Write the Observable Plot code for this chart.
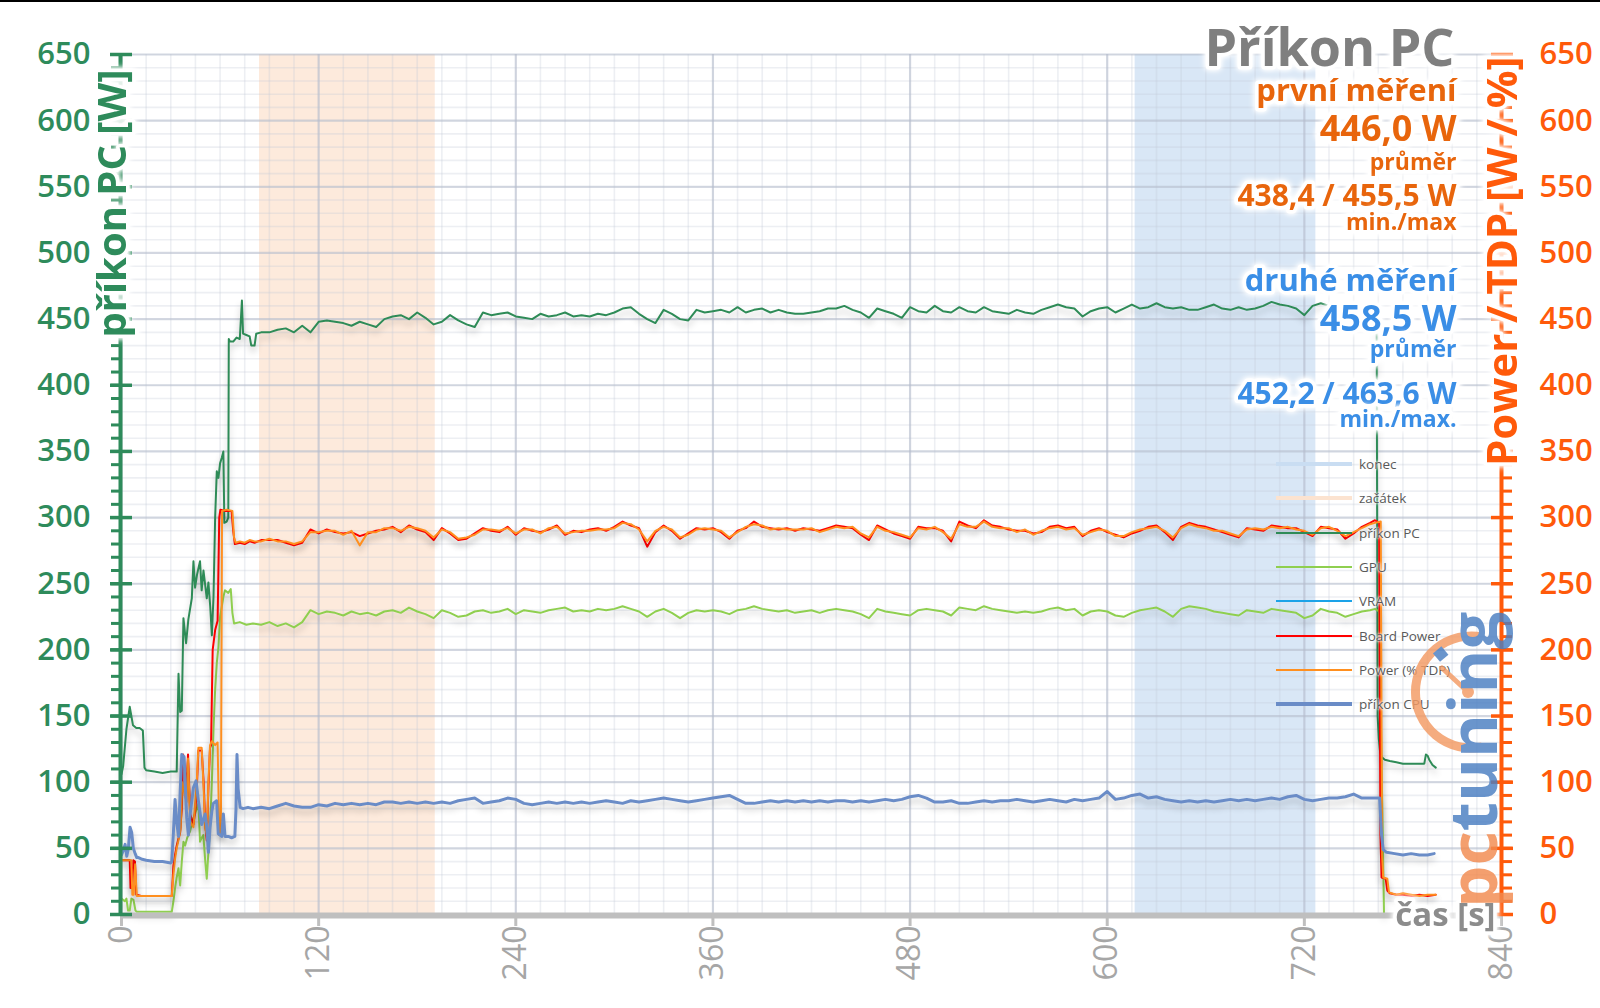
<!DOCTYPE html>
<html><head><meta charset="utf-8">
<script src="https://cdn.jsdelivr.net/npm/d3@7"></script>
<script src="https://cdn.jsdelivr.net/npm/@observablehq/plot@0.6"></script>
<style>
html,body{margin:0;padding:0;background:#fff;}
#wrap{position:relative;width:1600px;height:1008px;overflow:hidden;font-family:"Open Sans",sans-serif;}
#topline{position:absolute;left:0;top:0;width:1600px;height:2px;background:#000;}
#legend{position:absolute;left:1276px;top:447px;}
.row{display:flex;align-items:center;height:34.3px;}
.sw{width:76px;}
.lab{margin-left:7px;font-size:13.5px;color:#595959;font-family:"Open Sans",sans-serif;text-shadow:0 0 2px #fff,0 0 3px #fff,0 0 4px #fff;white-space:nowrap;}
</style></head>
<body><div id="wrap"><div id="topline"></div></div>
<script>
// ---------- DATA ----------
const xTicks = [0, 120, 240, 360, 480, 600, 720, 840];
const yTicks = [0, 50, 100, 150, 200, 250, 300, 350, 400, 450, 500, 550, 600, 650];
const bandNames = ["začátek", "konec"];
const bandStart = [84, 617];
const bandEnd = [191, 727];

const legendLabels = ["konec", "začátek", "příkon PC", "GPU", "VRAM", "Board Power", "Power (% TDP)", "příkon CPU"];

// steady-state sampling times (s)
const runSec = [85,90,95,100,105,110,115,120,125,130,
135,140,145,150,155,160,165,170,175,180,
185,190,195,200,205,210,215,220,225,230,
235,240,245,250,255,260,265,270,275,280,
285,290,295,300,305,310,315,320,325,330,
335,340,345,350,355,360,365,370,375,380,
385,390,395,400,405,410,415,420,425,430,
435,440,445,450,455,460,465,470,475,480,
485,490,495,500,505,510,515,520,525,530,
535,540,545,550,555,560,565,570,575,580,
585,590,595,600,605,610,615,620,625,630,
635,640,645,650,655,660,665,670,675,680,
685,690,695,700,705,710,715,720,725,730,
735,740,745,750,755,760];

// příkon PC [W]
const pcStartSec = [0,1,3,5,6,7,9,11,13,14,15,20,25,30,33.6,34.7,35.7,36.7,37.7,39.3,40.7,42.8,43.8,44.8,46,47.8,48.8,49.9,51.9,52.9,54,55,56,57,58,59,60,61,62,62.6,64,65,65.3,66,68,70,72,73.3,74,76,78,79,81,82];
const pcStartW = [106,112,140,157,150,143,141,141,139,111,109,108,107,108,108,182,153,154,224,205,223,239,267,247,257,267,245,260,239,251,233,211,240,300,335,330,341,345,350,296,297,300,435,433,433,436,435,464,439,438,437,430,430,439];
const pcRunW = [440,440,442,443,440,445,440,448,449,448,
447,445,448,446,444,450,452,453,450,455,
451,446,448,453,449,446,444,455,453,454,
455,452,451,450,454,452,453,455,452,453,
452,454,453,455,458,459,454,450,447,457,
454,450,449,457,455,456,457,455,459,455,
457,458,455,457,455,454,454,455,456,458,
458,460,457,455,451,458,456,454,451,459,
456,455,460,456,455,459,456,455,459,456,
455,454,457,455,454,457,459,461,459,458,
452,456,458,459,455,458,461,458,459,462,
459,458,459,457,457,459,461,458,457,459,
457,458,460,463,461,460,458,453,460,462,
460,459,461,460,459,461];
const pcEndSec = [763,764,764.6,765.3,766,767,769,772,776,780,785,790,793,794,795,796,798,800];
const pcEndW = [458,455,150,133,124,119,117,116,115,114,114,114,114,121,120,117,113,111];

// GPU [W]
const gpuStartSec = [0,2,3,4,5,6,7.3,8.5,9.3,15,20,30.6,31.6,32.6,33.6,34.7,35.7,36.7,37.7,38.7,40,41.8,43,44.8,46.8,47.8,48.8,49.8,51,51.9,52.9,53.9,55,56,57,58,59,60,62,63,65,66.5,67.5,68.5,72,76,80];
const gpuStartW = [12,10,12,3,3,12,11,3,2,2,2,2,10,20,28,35,22,40,55,52,58,63,70,76,84,55,58,60,40,27,47,65,100,140,170,190,202,225,240,245,243,246,228,220,221,219,220];
const gpuRunW = [219,221,218,220,217,221,230,227,229,228,
226,229,227,228,226,229,230,228,232,229,
227,224,230,228,225,226,229,230,228,229,
231,227,230,229,228,230,231,232,229,230,
229,231,230,231,233,231,229,225,229,231,
228,224,228,230,229,230,229,227,230,231,
233,231,230,229,230,228,229,230,228,230,
231,230,229,227,224,231,229,228,227,226,
230,231,230,229,226,232,231,230,233,231,
230,229,228,229,228,229,231,232,230,231,
226,229,230,229,226,225,228,230,231,232,
229,225,231,233,232,231,229,228,227,226,
230,229,228,231,230,229,228,224,226,231,
229,228,225,227,229,230];
const gpuEndSec = [763,765.5,768.5];
const gpuEndW = [231,229,0];

// Board Power [W]
const boardStartSec = [0,5,5.5,6.5,7.2,8.2,9,12,20,30.6,31.6,32.6,33.6,34.6,35.7,36.7,37.5,38.5,39.7,40.5,41.8,43.8,45,45.8,46.8,48.8,50,50.9,51.9,52.9,53.9,54.5,55.5,57,58.5,59.5,60.2,63,67,68,69,72,75,78,81];
const boardStartW = [41,41,20,20,41,40,15,14,14,14,37,45,52,57,62,80,121,110,96,121,76,68,80,94,124,124,100,70,56,96,126,128,200,215,222,300,306,305,305,290,280,281,280,282,281];
const boardRunW = [283,283,283,281,279,281,291,288,291,289,
288,289,286,288,290,291,293,289,294,291,
289,283,292,288,283,284,288,292,290,289,
293,287,292,290,289,291,294,287,290,289,
291,292,290,293,297,294,292,278,289,294,
290,284,288,292,291,292,289,284,290,292,
297,293,292,291,292,290,292,291,290,292,
294,293,292,287,283,294,291,288,286,284,
293,292,292,290,282,297,294,292,298,294,
293,291,290,290,288,289,293,294,292,293,
286,290,292,289,287,285,288,290,293,294,
289,283,293,296,294,293,291,289,287,285,
292,291,290,294,293,292,292,289,286,293,
292,291,284,288,293,296];
const boardEndSec = [763,765.5,766.3,767,769.5,770.5,772,776,780,785,790,795,800];
const boardEndW = [298,296,60,28,27,18,16,15,15,14,15,14,15];

// Power (% TDP)
const tdpStartSec = [0,6,6.6,7.4,8.3,9.3,12,20,30.6,31.6,32.6,33.6,35,36,37,38.5,39.7,40.5,41.8,43.8,45.8,46.8,48.8,50,50.9,52,52.9,53.9,55,57,58.5,59.5,60.5,61.2,64,67.5,68.5,69.5,72,75,78,81];
const tdpStartV = [41,41,15,15,38,14,14,14,14,30,42,50,58,65,100,90,85,118,70,66,100,126,126,95,65,60,100,128,131,128,130,60,62,305,306,305,285,281,282,281,283,282];
const tdpRunV = [282,284,282,282,280,282,289,289,290,290,
287,290,279,289,289,292,292,290,293,292,
290,285,291,289,284,285,287,291,291,290,
292,288,291,291,288,292,293,288,289,290,
290,291,291,292,296,295,291,282,290,293,
291,285,287,291,292,291,290,285,289,293,
295,294,291,292,291,291,291,292,289,291,
293,292,293,288,285,293,290,289,287,285,
292,291,293,289,284,295,293,293,297,293,
292,292,289,291,287,290,292,293,291,292,
287,289,291,290,286,286,289,291,292,293,
290,285,292,295,293,292,290,290,288,286,
291,292,291,293,292,293,291,290,287,292,
293,290,286,289,292,295];
const tdpEndSec = [763,766.5,767.3,768,770.5,771.5,773,776,780,785,790,795,800];
const tdpEndV = [296,297,45,28,27,17,16,15,16,15,14,15,15];

// příkon CPU [W]
const cpuStartSec = [0,1,2.2,3.2,4.2,5.2,6.2,7.2,8.3,9.3,10.3,12,15,20,25,30,30.6,31.6,32.6,33.6,34.7,35.7,36.7,38.1,39.7,40.7,41.8,43.8,45.4,46.8,48.8,50,50.9,51.9,52.9,53.9,55,55.9,57.9,58.9,60,61,62,63,65,67,69,69.7,70.3,71,72.2,74,77,80];
const cpuStartW = [45,48,53,44,50,66,62,50,46,43,43,42,41,40,40,39,40,62,87,70,59,92,121,119,73,60,76,96,101,86,68,72,76,66,47,66,78,84,86,61,60,59,76,59,59,58,59,80,121,95,81,80,81,80];
const cpuRunW = [81,80,82,84,82,81,81,83,82,84,
83,84,83,84,83,85,85,84,85,84,
85,84,85,84,86,87,88,84,85,86,
88,87,84,83,84,85,84,85,84,85,
84,85,86,85,84,86,85,86,87,88,
87,86,85,86,87,88,89,90,87,84,
84,85,86,85,86,85,86,85,86,85,
86,86,85,86,85,86,87,86,87,89,
90,88,85,85,86,84,84,85,86,85,
86,86,87,86,85,86,87,86,85,87,
86,87,88,93,87,88,90,91,88,89,
87,86,85,86,85,86,85,86,87,86,
87,86,87,88,87,89,90,87,86,87,
88,88,89,91,88,88];
const cpuEndSec = [763,765.8,767,768,770,775,780,785,790,795,799];
const cpuEndW = [88,88,60,49,47,46,45,46,45,45,46];

// ---------- BUILD ----------
const C = {
  green: "#2E8B5B", axOrange: "#FF5A0A", gray: "#BFBFBF",
  pc: "#2E8B57", gpu: "#8FCF4F", vram: "#1CA3E8", board: "#FF0000", tdp: "#FF8F1F", cpu: "#6A8CC7",
  konec: "#C9DDF2", zacatek: "#FCE3D0", txtOrange: "#E8650C", txtBlue: "#3A8EE6", title: "#7F7F7F"
};
const legendColors = [C.konec, C.zacatek, C.pc, C.gpu, C.vram, C.board, C.tdp, C.cpu];
const legendWidths = [4, 4, 2, 2, 2, 2, 2, 3.5];

function series(s, v) { return s.map((t, i) => ({t, v: v[i]})).filter(d => d.v != null); }
const pc = series([...pcStartSec, ...runSec, ...pcEndSec], [...pcStartW, ...pcRunW, ...pcEndW]);
const gpu = series([...gpuStartSec, ...runSec, ...gpuEndSec], [...gpuStartW, ...gpuRunW, ...gpuEndW]);
const board = series([...boardStartSec, ...runSec, ...boardEndSec], [...boardStartW, ...boardRunW, ...boardEndW]);
const tdp = series([...tdpStartSec, ...runSec, ...tdpEndSec], [...tdpStartV, ...tdpRunV, ...tdpEndV]);
const cpu = series([...cpuStartSec, ...runSec, ...cpuEndSec], [...cpuStartW, ...cpuRunW, ...cpuEndW]);
const bands = bandNames.map((n, i) => ({n, a: bandStart[i], b: bandEnd[i]}));

const FONT = "Open Sans";
const line = (data, color, w) => Plot.line(data, {x: "t", y: "v", stroke: color, strokeWidth: w, strokeLinejoin: "round"});
const note = (txt, dy, size, color, dx = -45) => Plot.text([txt], {
  frameAnchor: "top-right", text: d => d, dx, dy, fontSize: size, fontWeight: 700, fill: color,
  textAnchor: "end", lineAnchor: "bottom", stroke: "white", strokeWidth: 7, paintOrder: "stroke", fontFamily: FONT
});

const minor10 = d3.range(0, 651, 10);
const minor15 = d3.range(0, 841, 15);

const chart = Plot.plot({
  width: 1600, height: 1008,
  marginLeft: 121, marginRight: 99, marginTop: 54, marginBottom: 94,
  x: {domain: [0, 840], axis: null},
  y: {domain: [0, 650], axis: null},
  style: {fontFamily: FONT, background: "white", overflow: "visible"},
  marks: [
    Plot.rect(bands.filter(d => d.n === "začátek"), {x1: "a", x2: "b", y1: 0, y2: 650, fill: C.zacatek, fillOpacity: 0.75}),
    Plot.rect(bands.filter(d => d.n === "konec"), {x1: "a", x2: "b", y1: 0, y2: 650, fill: C.konec, fillOpacity: 0.7}),
    Plot.gridY({ticks: minor10, stroke: "#C3C9D8", strokeOpacity: 0.3, strokeWidth: 1.6}),
    Plot.gridX({ticks: minor15, stroke: "#C3C9D8", strokeOpacity: 0.3, strokeWidth: 1.6}),
    Plot.gridY({ticks: yTicks, stroke: "#B4BBCC", strokeOpacity: 0.5, strokeWidth: 2.2}),
    Plot.gridX({ticks: xTicks, stroke: "#B4BBCC", strokeOpacity: 0.55, strokeWidth: 2.2}),
    line(pc, C.pc, 2),
    line(gpu, C.gpu, 2),
    line(board, C.board, 2),
    line(tdp, C.tdp, 2),
    line(cpu, C.cpu, 3),
    // bottom axis
    Plot.ruleY([0], {stroke: C.gray, strokeWidth: 6, dy: 1}),
    Plot.axisX({anchor: "bottom", ticks: xTicks, tickSize: 12, tickFormat: () => "", stroke: C.gray, strokeWidth: 3, label: null}),
    Plot.text(xTicks, {x: d => d, text: d => String(d), frameAnchor: "bottom", rotate: -90, textAnchor: "end", lineAnchor: "middle", dy: 11, fontSize: 32, fill: "#A6A6A6", fontFamily: FONT}),
    // left axis
    Plot.ruleX([0], {stroke: C.green, strokeWidth: 4, dx: -1}),
    Plot.axisY({anchor: "left", ticks: minor10, tickSize: 10, tickFormat: () => "", stroke: C.green, strokeWidth: 3, label: null}),
    Plot.axisY({anchor: "left", ticks: yTicks, tickSize: 22, dx: 11, tickFormat: () => "", stroke: C.green, strokeWidth: 3.5, label: null}),
    Plot.text(yTicks, {y: d => d, text: d => String(d), frameAnchor: "left", textAnchor: "end", lineAnchor: "middle", dx: -31, fontSize: 31, fontWeight: 600, fill: C.green, fontFamily: FONT}),
    // right axis
    Plot.ruleX([840], {stroke: C.axOrange, strokeWidth: 4}),
    Plot.axisY({anchor: "right", ticks: minor10, tickSize: 10, tickFormat: () => "", stroke: C.axOrange, strokeWidth: 3, label: null}),
    Plot.axisY({anchor: "right", ticks: yTicks, tickSize: 22, dx: -11, tickFormat: () => "", stroke: C.axOrange, strokeWidth: 3.5, label: null}),
    Plot.text(yTicks, {y: d => d, text: d => String(d), frameAnchor: "right", textAnchor: "start", lineAnchor: "middle", dx: 38, fontSize: 31, fontWeight: 600, fill: C.axOrange, fontFamily: FONT}),
    // axis titles
    Plot.text(["příkon PC [W]"], {frameAnchor: "top-left", text: d => d, rotate: -90, textAnchor: "end", lineAnchor: "middle", dx: -8, dy: 15, fontSize: 40, fontWeight: 700, fill: C.green, stroke: "white", strokeWidth: 7, paintOrder: "stroke", fontFamily: FONT}),
    Plot.text(["Power / TDP [W / %]"], {frameAnchor: "top-right", text: d => d, rotate: -90, textAnchor: "end", lineAnchor: "middle", dx: 2, dy: 2, fontSize: 42, fontWeight: 700, fill: C.axOrange, stroke: "white", strokeWidth: 7, paintOrder: "stroke", fontFamily: FONT}),
    Plot.text(["čas [s]"], {frameAnchor: "bottom-right", text: d => d, textAnchor: "end", lineAnchor: "bottom", dx: -6, dy: 11, fontSize: 33, fontWeight: 700, fill: "#8C8C8C", stroke: "white", strokeWidth: 7, paintOrder: "stroke", fontFamily: FONT}),
    // annotations
    note("Příkon PC", 11, 52, C.title, -47),
    note("první měření", 46, 31, C.txtOrange),
    note("446,0 W", 86, 36, C.txtOrange),
    note("průměr", 115, 23, C.txtOrange),
    note("438,4 / 455,5 W", 151, 30, C.txtOrange),
    note("min./max", 175, 23, C.txtOrange),
    note("druhé měření", 236, 31, C.txtBlue),
    note("458,5 W", 276, 36, C.txtBlue),
    note("průměr", 302, 23, C.txtBlue),
    note("452,2 / 463,6 W", 349, 30, C.txtBlue),
    note("min./max.", 372, 23, C.txtBlue)
  ]
});

const wrap = document.getElementById("wrap");
wrap.insertBefore(chart, wrap.firstChild);
chart.querySelectorAll('g[aria-label="line"]').forEach(g => g.style.filter = "drop-shadow(0px 5px 3px rgba(0,0,0,0.22))");
chart.querySelectorAll('g[aria-label="text"][stroke="white"]').forEach(g => g.style.filter = "drop-shadow(0 0 2px #fff) drop-shadow(0 0 3px #fff)");

// legend
const lg = document.createElement("div");
lg.id = "legend";
legendLabels.forEach((lab, i) => {
  const r = document.createElement("div"); r.className = "row";
  const s = document.createElement("div"); s.className = "sw";
  s.style.height = legendWidths[i] + "px"; s.style.background = legendColors[i];
  const t = document.createElement("div"); t.className = "lab"; t.textContent = lab;
  r.appendChild(s); r.appendChild(t); lg.appendChild(r);
});
wrap.appendChild(lg);

// watermark logo
const ns = "http://www.w3.org/2000/svg";
const wm = document.createElementNS(ns, "svg");
wm.setAttribute("width", 1600); wm.setAttribute("height", 1008);
wm.style.cssText = "position:absolute;left:0;top:0;pointer-events:none";
wm.innerHTML = `<g opacity="0.82">
 <path d="M 1482 637 A 56 56 0 1 0 1482 747" fill="none" stroke="#F39A63" stroke-width="9"/>
 <line x1="1468" y1="692" x2="1442" y2="668" stroke="#F39A63" stroke-width="5" stroke-linecap="round"/>
 <circle cx="1468" cy="692" r="6" fill="#F39A63"/>
 <rect x="1435" y="649" width="11" height="11" fill="#4A7EC2" transform="rotate(-40 1440 654)"/>
 <text transform="translate(1497,908) rotate(-90)" font-size="67" font-weight="700" font-family="Open Sans"><tspan fill="#F28A4F">pc</tspan><tspan fill="#4A7EC2">tuning</tspan></text>
</g>`;
wrap.appendChild(wm);
</script>
</body></html>
